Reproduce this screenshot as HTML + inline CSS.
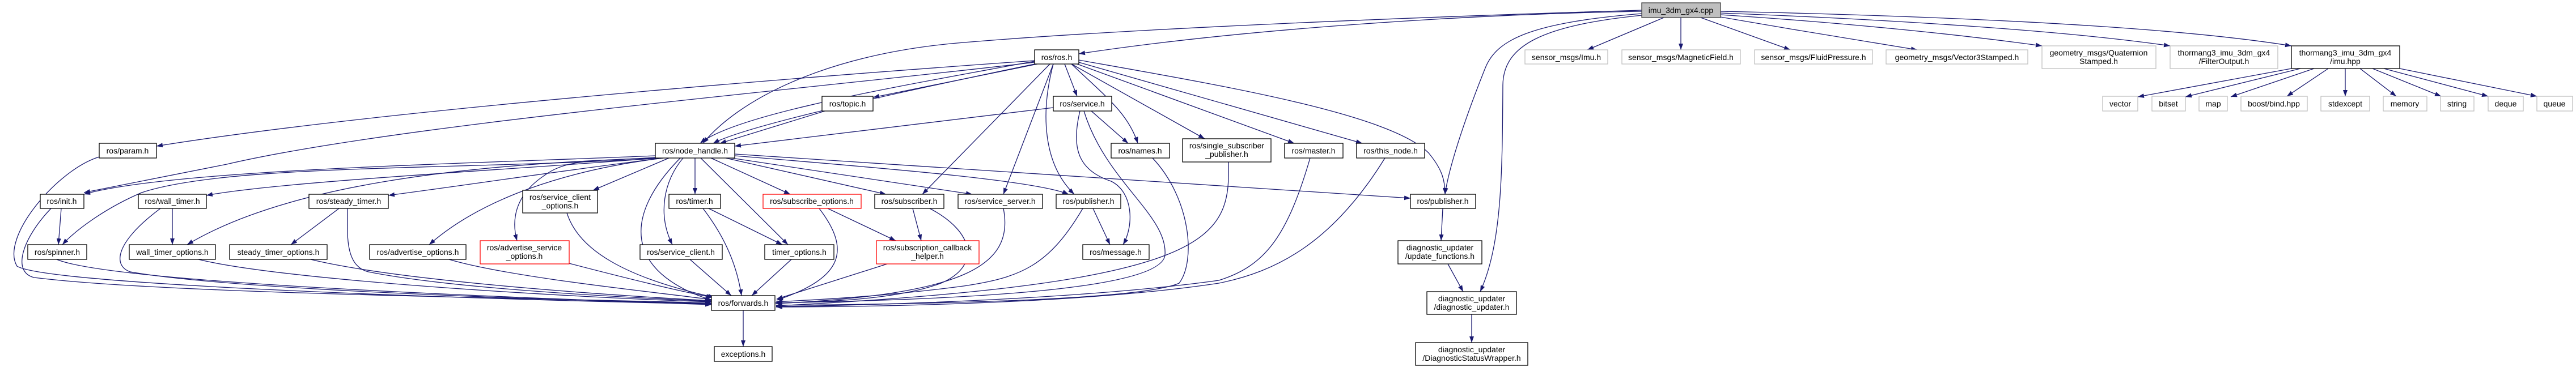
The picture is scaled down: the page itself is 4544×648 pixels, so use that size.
<!DOCTYPE html>
<html><head><meta charset="utf-8"><style>
html,body{margin:0;padding:0;background:#fff;width:4544px;height:648px;overflow:hidden}
svg text{font-family:"Liberation Sans Narrow","Liberation Sans",sans-serif;font-size:14px;fill:#000}
</style></head><body>
<svg width="4544" height="648" viewBox="0 0 4544 648" xmlns="http://www.w3.org/2000/svg">
<defs><marker id="a" markerWidth="11" markerHeight="8" refX="11" refY="4" orient="auto" markerUnits="userSpaceOnUse"><path d="M0,0 L11,4 L0,8 z" fill="#191970"/></marker></defs>
<g fill="none" stroke="#191970" stroke-width="1.3" marker-end="url(#a)">
<path d="M2896,20 C2600,25 2200,50 1903,95"/>
<path d="M2896,18 C2500,30 2000,50 1700,75 C1450,95 1300,180 1240,253"/>
<path d="M2935,31 L2800,88"/>
<path d="M2965,31 L2965,88"/>
<path d="M3000,31 L3158,88"/>
<path d="M3035,30 C3150,50 3300,75 3382,88"/>
<path d="M3035,26 C3250,40 3450,60 3602,81"/>
<path d="M3035,23 C3350,35 3650,55 3828,81"/>
<path d="M3035,20 C3500,30 3850,50 4042,81"/>
<path d="M2896,24 C2700,40 2640,70 2620,120 C2580,220 2555,300 2549,343"/>
<path d="M2896,27 C2720,45 2652,80 2651,150 C2650,300 2650,430 2611,515"/>
<path d="M1825,107 C1500,130 700,190 276,258"/>
<path d="M1825,110 C1400,160 700,220 400,290 C300,310 200,330 148,340"/>
<path d="M1825,108 C1600,150 1300,200 1235,253"/>
<path d="M1830,112 C1600,160 1320,220 1258,253"/>
<path d="M1830,113 L1540,172"/>
<path d="M1878,113 L1900,170"/>
<path d="M1890,113 C1950,170 1990,200 2007,253"/>
<path d="M1890,113 L2125,245"/>
<path d="M1900,113 L2283,253"/>
<path d="M1903,110 L2403,253"/>
<path d="M1852,113 L1627,343"/>
<path d="M1858,113 L1770,343"/>
<path d="M1858,113 C1835,200 1840,290 1895,343"/>
<path d="M1903,106 C2150,150 2450,200 2520,270 C2545,300 2549,320 2549,343"/>
<path d="M1455,196 L1270,253"/>
<path d="M1858,190 L1296,258"/>
<path d="M1925,196 L1990,253"/>
<path d="M1905,196 C1890,260 1900,300 1960,320 C2000,340 2000,400 1981,432"/>
<path d="M1912,196 C1950,320 2060,380 2055,450 C2050,520 1600,530 1367,535"/>
<path d="M1156,275 C800,290 300,300 148,343"/>
<path d="M1156,280 C800,300 400,290 250,340 C180,370 130,410 110,432"/>
<path d="M1160,279 C900,300 500,320 364,345"/>
<path d="M1160,279 C800,290 500,330 330,432"/>
<path d="M1170,279 C1000,300 800,330 685,345"/>
<path d="M1170,279 C1000,300 850,350 757,432"/>
<path d="M1156,278 C1050,285 1000,280 960,310 C900,350 905,400 912,425"/>
<path d="M1180,279 L1046,336"/>
<path d="M1226,279 L1226,343"/>
<path d="M1205,279 C1170,320 1160,380 1186,432"/>
<path d="M1236,279 L1390,432"/>
<path d="M1254,279 L1394,343"/>
<path d="M1280,279 L1563,343"/>
<path d="M1290,279 L1715,343"/>
<path d="M1296,275 C1600,300 1830,320 1885,343"/>
<path d="M1296,272 L2488,350"/>
<path d="M1200,279 C1100,380 1100,480 1255,530"/>
<path d="M108,368 L103,432"/>
<path d="M90,368 C40,420 20,480 60,490 C300,520 1000,527 1255,535"/>
<path d="M175,277 C100,300 0,420 30,470 C80,500 700,525 1255,537"/>
<path d="M100,458 C200,500 900,525 1255,538"/>
<path d="M304,368 L304,432"/>
<path d="M283,368 C200,430 200,470 230,480 C400,510 900,528 1255,536"/>
<path d="M350,458 C500,495 1000,525 1255,533"/>
<path d="M598,368 L513,432"/>
<path d="M613,368 C612,420 610,470 650,480 C800,510 1100,525 1255,532"/>
<path d="M548,458 C700,495 1050,520 1255,531"/>
<path d="M792,458 C900,490 1150,515 1255,529"/>
<path d="M1004,465 C1100,490 1200,515 1257,525"/>
<path d="M1000,376 C1020,440 1100,490 1260,525"/>
<path d="M1250,368 L1380,432"/>
<path d="M1240,368 C1280,420 1300,470 1308,522"/>
<path d="M1217,458 L1290,522"/>
<path d="M1396,458 L1326,522"/>
<path d="M1460,368 L1580,425"/>
<path d="M1445,368 C1500,440 1490,490 1370,530"/>
<path d="M1610,368 L1625,425"/>
<path d="M1640,368 C1720,410 1730,470 1660,500 C1580,530 1450,533 1369,535"/>
<path d="M1565,466 L1370,528"/>
<path d="M1770,368 C1790,470 1700,520 1369,536"/>
<path d="M1928,368 L1958,432"/>
<path d="M1910,368 C1850,470 1800,490 1700,505 C1550,525 1420,530 1369,533"/>
<path d="M2033,279 C2100,350 2110,460 2080,500 C2000,535 1500,538 1369,539"/>
<path d="M2167,286 C2170,420 2150,500 1369,540"/>
<path d="M2311,279 C2270,420 2230,470 2150,495 C1900,530 1500,540 1369,541"/>
<path d="M2443,279 C2350,430 2250,480 2150,500 C1900,538 1500,542 1369,542"/>
<path d="M1311,548 L1311,612"/>
<path d="M2545,368 L2542,425"/>
<path d="M2554,466 L2581,515"/>
<path d="M2596,555 L2596,605"/>
<path d="M4042,121 L3771,171"/>
<path d="M4058,121 L3855,171"/>
<path d="M4082,121 L3935,171"/>
<path d="M4107,121 L4034,170"/>
<path d="M4137,121 L4137,170"/>
<path d="M4163,121 L4227,170"/>
<path d="M4185,121 L4306,170"/>
<path d="M4205,121 L4389,170"/>
<path d="M4233,121 L4475,170"/>
</g>
<g stroke-width="1.3" text-anchor="middle">
<g fill="#fff" stroke="#000">
<rect x="1825" y="88" width="78" height="25"/>
<rect x="4042" y="81" width="191" height="40"/>
<rect x="1450" y="170" width="90" height="26"/>
<rect x="1858" y="170" width="103" height="26"/>
<rect x="175" y="253" width="101" height="26"/>
<rect x="1156" y="253" width="140" height="26"/>
<rect x="1960" y="253" width="103" height="26"/>
<rect x="2086" y="245" width="156" height="41"/>
<rect x="2266" y="253" width="103" height="26"/>
<rect x="2393" y="253" width="120" height="26"/>
<rect x="71" y="343" width="77" height="25"/>
<rect x="244" y="343" width="120" height="25"/>
<rect x="545" y="343" width="140" height="25"/>
<rect x="922" y="336" width="132" height="40"/>
<rect x="1180" y="343" width="91" height="25"/>
<rect x="1543" y="343" width="122" height="25"/>
<rect x="1690" y="343" width="149" height="25"/>
<rect x="1863" y="343" width="114" height="25"/>
<rect x="2488" y="343" width="115" height="25"/>
<rect x="49" y="432" width="104" height="26"/>
<rect x="228" y="432" width="152" height="26"/>
<rect x="405" y="432" width="172" height="26"/>
<rect x="652" y="432" width="170" height="26"/>
<rect x="1129" y="432" width="145" height="26"/>
<rect x="1349" y="432" width="122" height="26"/>
<rect x="1910" y="432" width="117" height="26"/>
<rect x="2466" y="425" width="148" height="41"/>
<rect x="1255" y="522" width="112" height="26"/>
<rect x="2517" y="515" width="158" height="40"/>
<rect x="1260" y="612" width="102" height="26"/>
<rect x="2497" y="605" width="198" height="40"/>
</g>
<rect x="2896" y="5" width="139" height="26" fill="#bfbfbf" stroke="#404040"/>
<g fill="#fff" stroke="#ff0000">
<rect x="1346" y="343" width="173" height="25"/>
<rect x="847" y="425" width="157" height="41"/>
<rect x="1546" y="425" width="181" height="41"/>
</g>
<g fill="#fff" stroke="#bfbfbf">
<rect x="2690" y="88" width="146" height="25"/>
<rect x="2861" y="88" width="209" height="25"/>
<rect x="3095" y="88" width="208" height="25"/>
<rect x="3327" y="88" width="250" height="25"/>
<rect x="3602" y="81" width="201" height="40"/>
<rect x="3828" y="81" width="190" height="40"/>
<rect x="3709" y="170" width="62" height="26"/>
<rect x="3796" y="170" width="59" height="26"/>
<rect x="3879" y="170" width="50" height="26"/>
<rect x="3953" y="170" width="117" height="26"/>
<rect x="4094" y="170" width="86" height="26"/>
<rect x="4204" y="170" width="77" height="26"/>
<rect x="4305" y="170" width="59" height="26"/>
<rect x="4389" y="170" width="62" height="26"/>
<rect x="4475" y="170" width="63" height="26"/>
</g>
<g stroke="none">
<text x="2965" y="23">imu_3dm_gx4.cpp</text>
<text x="1864" y="106">ros/ros.h</text>
<text x="2763" y="106">sensor_msgs/Imu.h</text>
<text x="2965" y="106">sensor_msgs/MagneticField.h</text>
<text x="3199" y="106">sensor_msgs/FluidPressure.h</text>
<text x="3452" y="106">geometry_msgs/Vector3Stamped.h</text>
<text x="3702" y="98">geometry_msgs/Quaternion</text><text x="3702" y="113">Stamped.h</text>
<text x="3923" y="98">thormang3_imu_3dm_gx4</text><text x="3923" y="113">/FilterOutput.h</text>
<text x="4137" y="98">thormang3_imu_3dm_gx4</text><text x="4137" y="113">/imu.hpp</text>
<text x="1495" y="188">ros/topic.h</text>
<text x="1909" y="188">ros/service.h</text>
<text x="3740" y="188">vector</text>
<text x="3825" y="188">bitset</text>
<text x="3904" y="188">map</text>
<text x="4011" y="188">boost/bind.hpp</text>
<text x="4137" y="188">stdexcept</text>
<text x="4242" y="188">memory</text>
<text x="4334" y="188">string</text>
<text x="4420" y="188">deque</text>
<text x="4506" y="188">queue</text>
<text x="225" y="271">ros/param.h</text>
<text x="1226" y="271">ros/node_handle.h</text>
<text x="2011" y="271">ros/names.h</text>
<text x="2164" y="262">ros/single_subscriber</text><text x="2164" y="277">_publisher.h</text>
<text x="2317" y="271">ros/master.h</text>
<text x="2453" y="271">ros/this_node.h</text>
<text x="109" y="360">ros/init.h</text>
<text x="304" y="360">ros/wall_timer.h</text>
<text x="615" y="360">ros/steady_timer.h</text>
<text x="988" y="353">ros/service_client</text><text x="988" y="368">_options.h</text>
<text x="1225" y="360">ros/timer.h</text>
<text x="1432" y="360">ros/subscribe_options.h</text>
<text x="1604" y="360">ros/subscriber.h</text>
<text x="1764" y="360">ros/service_server.h</text>
<text x="1920" y="360">ros/publisher.h</text>
<text x="2545" y="360">ros/publisher.h</text>
<text x="101" y="450">ros/spinner.h</text>
<text x="304" y="450">wall_timer_options.h</text>
<text x="491" y="450">steady_timer_options.h</text>
<text x="737" y="450">ros/advertise_options.h</text>
<text x="925" y="442">ros/advertise_service</text><text x="925" y="457">_options.h</text>
<text x="1201" y="450">ros/service_client.h</text>
<text x="1410" y="450">timer_options.h</text>
<text x="1636" y="442">ros/subscription_callback</text><text x="1636" y="457">_helper.h</text>
<text x="1968" y="450">ros/message.h</text>
<text x="2540" y="442">diagnostic_updater</text><text x="2540" y="457">/update_functions.h</text>
<text x="1311" y="540">ros/forwards.h</text>
<text x="2596" y="532">diagnostic_updater</text><text x="2596" y="547">/diagnostic_updater.h</text>
<text x="1311" y="630">exceptions.h</text>
<text x="2596" y="622">diagnostic_updater</text><text x="2596" y="637">/DiagnosticStatusWrapper.h</text>
</g>
</g>
</svg>
</body></html>
